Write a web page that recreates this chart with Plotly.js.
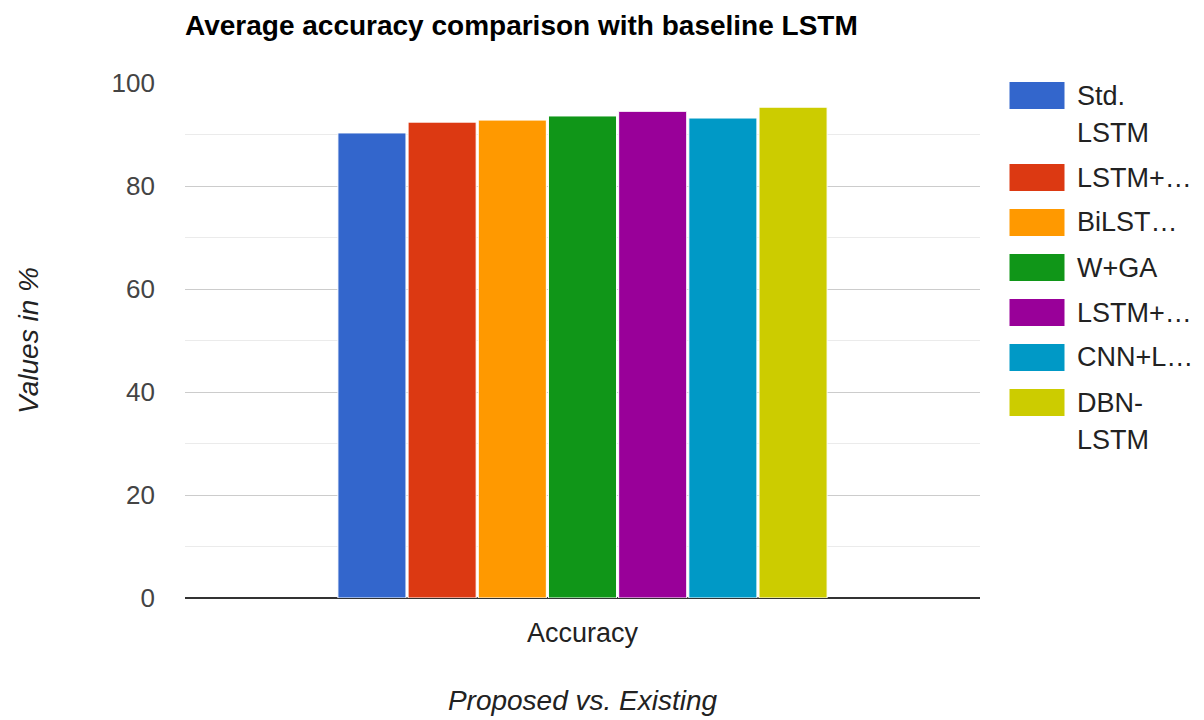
<!DOCTYPE html>
<html>
<head>
<meta charset="utf-8">
<script src="https://cdn.plot.ly/plotly-3.0.1.min.js"></script>
<style>
  html, body { margin: 0; padding: 0; background: #ffffff; }
  #chart { width: 1204px; height: 720px; }
</style>
</head>
<body>
<div id="chart"></div>
<script>
// Average accuracy (%) of each method on the single "Accuracy" category
const categories = ['Accuracy'];
const methods = ['Std. LSTM', 'LSTM+…', 'BiLST…', 'W+GA', 'LSTM+…', 'CNN+L…', 'DBN-LSTM'];
const legendLines = [['Std.', 'LSTM'], ['LSTM+…'], ['BiLST…'], ['W+GA'], ['LSTM+…'], ['CNN+L…'], ['DBN-', 'LSTM']];
const accuracy = [90.3, 92.4, 92.8, 93.6, 94.5, 93.2, 95.3];
const colors = ['#3366cc', '#dc3912', '#ff9900', '#109618', '#990099', '#0099c6', '#cccc00'];
const yTicks = [0, 20, 40, 60, 80, 100];

const FONT = 'Arial, "Liberation Sans", sans-serif';

const traces = methods.map((name, i) => ({
  type: 'bar',
  name: name,
  x: categories,
  y: [accuracy[i]],
  marker: { color: colors[i], line: { color: '#ffffff', width: 1 } },
  hoverinfo: 'name+y',
  showlegend: false
}));

// plot area in pixels
const plotL = 185, plotR = 980, plotT = 83, plotB = 598;
const W = 1204, H = 720;
const px2x = px => (px - plotL) / (plotR - plotL);
const px2y = py => (plotB - py) / (plotB - plotT);

// hand-built legend: large colour swatches with wrapped labels
const shapes = [];
const annotations = [];
let centerY = 95.5;
legendLines.forEach((lines, i) => {
  shapes.push({
    type: 'rect', xref: 'paper', yref: 'paper',
    x0: px2x(1009), x1: px2x(1065),
    y0: px2y(centerY - 14), y1: px2y(centerY + 14),
    fillcolor: colors[i], line: { color: '#ffffff', width: 1 }
  });
  lines.forEach((txt, j) => {
    annotations.push({
      xref: 'paper', yref: 'paper',
      x: px2x(1075), y: px2y(centerY + j * 37),
      xanchor: 'left', yanchor: 'middle',
      text: txt, showarrow: false,
      font: { family: FONT, size: 27, color: '#222222' }
    });
  });
  centerY += 45 + (lines.length - 1) * 37;
});

const layout = {
  width: W, height: H,
  paper_bgcolor: '#ffffff', plot_bgcolor: '#ffffff',
  margin: { l: plotL, r: W - plotR, t: plotT, b: H - plotB, pad: 0 },
  font: { family: FONT, size: 26, color: '#444444' },
  title: {
    text: '<b>Average accuracy comparison with baseline LSTM</b>',
    font: { family: FONT, size: 28, color: '#000000' },
    xref: 'paper', x: 0, xanchor: 'left',
    yref: 'container', y: 1 - 25 / H, yanchor: 'middle'
  },
  barmode: 'group',
  bargap: 0.382,
  bargroupgap: 0.03,
  showlegend: false,
  xaxis: {
    type: 'category',
    showgrid: false, zeroline: false, showline: false,
    ticks: '', ticklabelstandoff: 16,
    tickfont: { family: FONT, size: 27, color: '#222222' },
    title: {
      text: '<i>Proposed vs. Existing</i>',
      font: { family: FONT, size: 28, color: '#222222' },
      standoff: 43
    },
    automargin: false
  },
  yaxis: {
    range: [0, 100],
    tickvals: yTicks,
    ticks: '', ticklabelstandoff: 29,
    showgrid: true, gridcolor: '#cccccc', gridwidth: 1,
    minor: { dtick: 10, showgrid: true, gridcolor: '#ebebeb', gridwidth: 1 },
    zeroline: true, zerolinecolor: '#333333', zerolinewidth: 2,
    showline: false,
    tickfont: { family: FONT, size: 26, color: '#444444' },
    title: {
      text: '<i>Values in %</i>',
      font: { family: FONT, size: 28, color: '#222222' },
      standoff: 64
    },
    automargin: false
  },
  shapes: shapes,
  annotations: annotations
};

Plotly.newPlot('chart', traces, layout, { displayModeBar: false, staticPlot: true });
</script>
</body>
</html>
